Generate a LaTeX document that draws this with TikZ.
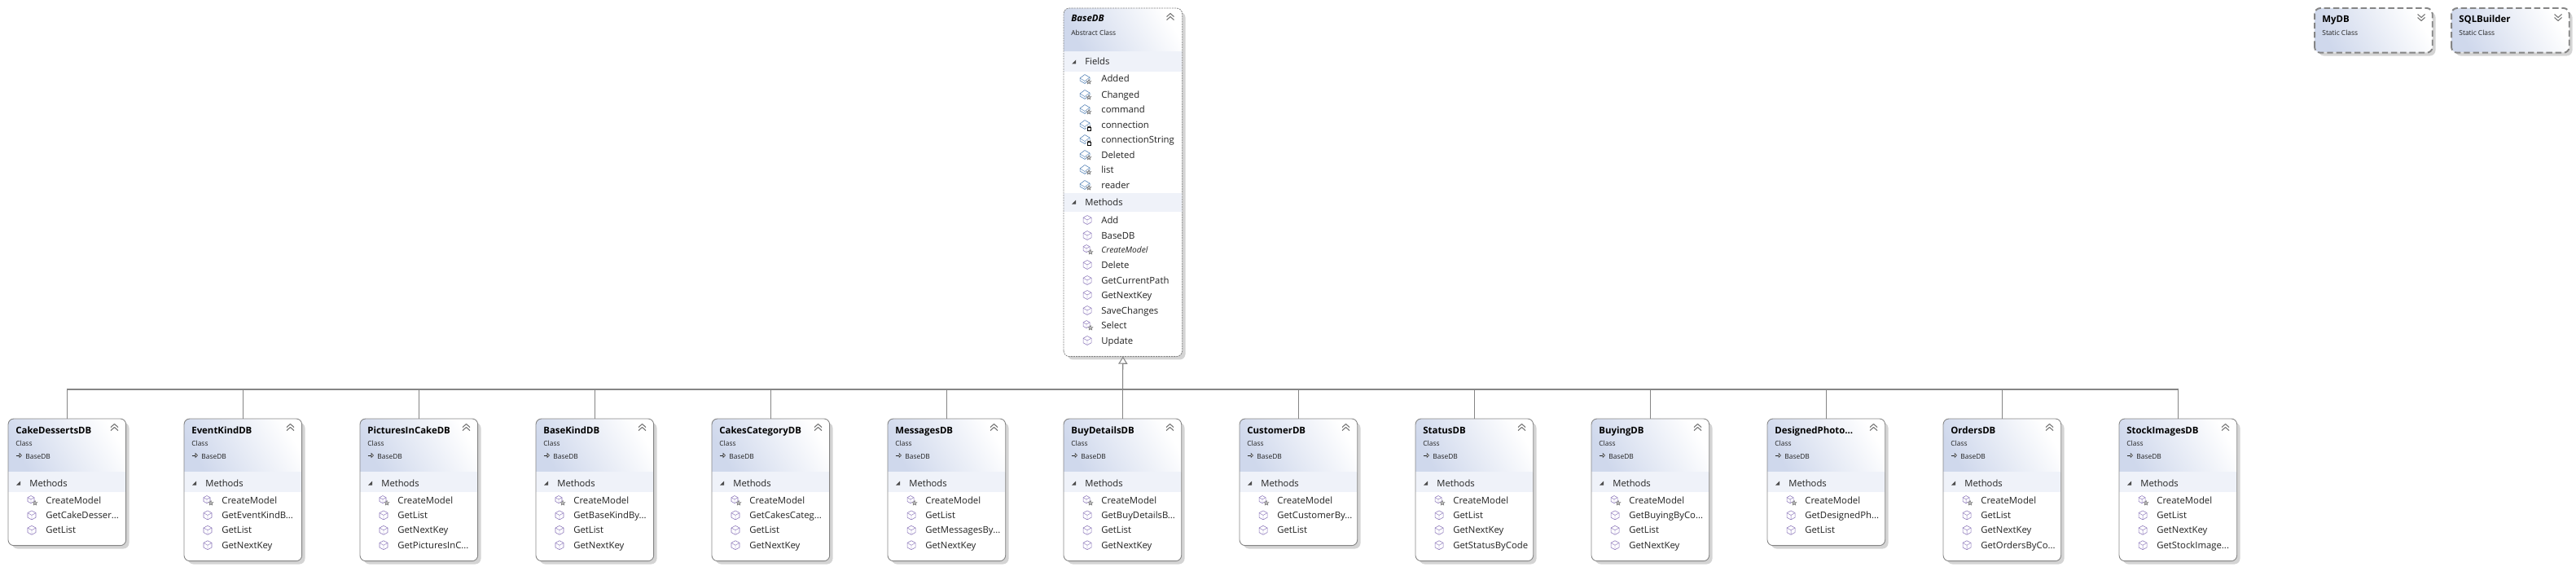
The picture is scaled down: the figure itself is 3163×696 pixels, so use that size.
\documentclass[tikz,border=0pt]{standalone}
\usepackage{fontspec}
\setmainfont{Open Sans}
\usetikzlibrary{arrows.meta,shadows}
\definecolor{hdrblue}{HTML}{CFD8EC}
\definecolor{bandblue}{HTML}{EFF2F9}
\definecolor{edgegray}{HTML}{858585}
\definecolor{linkgray}{HTML}{858585}
\definecolor{shadegray}{HTML}{D4D4D4}
\definecolor{methodpurple}{HTML}{8670B8}
\definecolor{fieldblue}{HTML}{4C7DB4}
\definecolor{inktext}{HTML}{222222}
\newcommand{\trunc}{{.}{.}{.}}
\tikzset{
  titletext/.style={inner sep=0,anchor=base west,font=\fontsize{6.5}{8}\selectfont\bfseries,text=black},
  subtext/.style={inner sep=0,anchor=base west,font=\fontsize{4.8}{6}\selectfont,text=inktext},
  bandtext/.style={inner sep=0,anchor=base west,font=\fontsize{6.4}{8}\selectfont,text=inktext},
  membertext/.style={inner sep=0,anchor=base west,font=\fontsize{6.45}{8}\selectfont,text=inktext},
  classbox/.style={anchor=north west,inner sep=0,minimum width=2.88cm,rounded corners=4pt,fill=white,
    drop shadow={shadow xshift=2.4pt,shadow yshift=-2.4pt,fill=shadegray,opacity=1}},
  boxedge/.style={draw=edgegray,line width=0.5pt,rounded corners=4pt},
  baseedge/.style={draw=edgegray,line width=0.45pt,rounded corners=4pt,dash pattern=on 1.2pt off 0.6pt},
  staticedge/.style={draw=edgegray,line width=1.1pt,rounded corners=4pt,dash pattern=on 4.2pt off 2.2pt},
  hdrshade/.style={shading=axis,top color=white,bottom color=hdrblue,shading angle=-60},
  linkline/.style={draw=linkgray,line width=0.6pt},
  methodicon/.pic={
    \draw[methodpurple,line width=0.3pt,line join=round] (0,-5.5) -- (5,-2.8) -- (5,2.8) -- (0,5.5) -- (-5,2.8) -- (-5,-2.8) -- cycle;
    \draw[methodpurple,line width=0.25pt] (-5,-2.8) -- (0,0) -- (5,-2.8) (0,0) -- (0,5.5);
  },
  staricon/.pic={
    \draw[black!60,line width=0.22pt,fill=white,line join=round] (-90:3.4) -- (54:3.4) -- (198:3.4) -- (-18:3.4) -- (126:3.4) -- cycle;
  },
  virtualicon/.pic={
    \draw[methodpurple,line width=0.3pt,line join=round] (-1,-5.5) -- (3,-3.3) -- (3,1.5) -- (-1,3.7) -- (-5,1.5) -- (-5,-3.3) -- cycle;
    \draw[methodpurple,line width=0.25pt] (-5,-3.3) -- (-1,-1) -- (3,-3.3) (-1,-1) -- (-1,3.7);
    \pic at (4,3.5) {staricon};
  },
  fieldbody/.pic={
    \draw[fieldblue,line width=0.3pt,line join=round] (-7,-1) -- (-1,-5.5) -- (5,-2) -- (5,1) -- (-1,5.5) -- (-7,2) -- cycle;
    \draw[fieldblue,line width=0.25pt] (-7,-1) -- (-1,2.5) -- (5,-2) (-1,2.5) -- (-1,5.5);
  },
  fieldicon/.pic={
    \pic {fieldbody};
    \pic at (4,3.5) {staricon};
  },
  lockicon/.pic={
    \pic {fieldbody};
    \fill[white] (1,1) rectangle (7,7);
    \draw[black,line width=0.35pt] (2,3) rectangle (6.5,7);
    \draw[black,line width=0.3pt] (2.8,3) -- (2.8,1.8) arc (180:0:1.4) -- (5.6,3);
  },
  chevup/.pic={
    \draw[gray!90!black,line width=0.6pt,line join=round] (-4.5,-0.5) -- (0,-4.5) -- (4.5,-0.5) (-4.5,3.5) -- (0,-0.5) -- (4.5,3.5);
  },
  chevdown/.pic={
    \draw[gray!90!black,line width=0.6pt,line join=round] (-4.5,-3.5) -- (0,0.5) -- (4.5,-3.5) (-4.5,0.5) -- (0,4.5) -- (4.5,0.5);
  },
  bandmark/.pic={
    \fill[black!70] (-2.5,2.5) -- (2.5,2.5) -- (2.5,-2.5) -- cycle;
  },
  parenticon/.pic={
    \draw[black!85,line width=0.3pt] (-3.5,0) -- (1,0);
    \draw[black!85,line width=0.3pt,fill=white] (1,-2.4) -- (3.5,0) -- (1,2.4) -- cycle;
  },
}
\newcommand{\dbclass}[5]{
  \node[classbox,minimum height=#3cm] (#1) at (#2,514) {};
  \begin{scope}
    \clip[rounded corners=4pt] (#1.south west) rectangle (#1.north east);
    \shade[hdrshade] (#2,514) rectangle (#2+145,579);
    \fill[bandblue] (#2,579) rectangle (#2+145,604);
  \end{scope}
  \draw[boxedge] (#1.south west) rectangle (#1.north east);
  \node[titletext] (#1title) at (#2+9,532) {#4};
  \node[subtext] (#1kind) at (#2+9,547) {Class};
  \pic at (#2+13,559) {parenticon};
  \node[subtext] (#1parent) at (#2+21,563) {BaseDB};
  \pic at (#2+130.5,525) {chevup};
  \pic at (#2+12.5,593) {bandmark};
  \node[bandtext] (#1band) at (#2+26,597) {Methods};
  \pic at (#2+29,614) {virtualicon};
  \node[membertext] (#1first) at (#2+46,618) {CreateModel};
  \foreach \mname [count=\n] in {#5} {
    \pic at (#2+29,{614+18.4*\n}) {methodicon};
    \node[membertext] (#1m\n) at (#2+46,{618+18.4*\n}) {\mname};
  }
}
\newcommand{\staticclass}[3]{
  \node[classbox,minimum height=1.08cm] (#1) at (#2,10) {};
  \begin{scope}
    \clip[rounded corners=4pt] (#1.south west) rectangle (#1.north east);
    \shade[hdrshade] (#2,10) rectangle (#2+145,64);
  \end{scope}
  \draw[staticedge] (#1.south west) rectangle (#1.north east);
  \node[titletext] (#1title) at (#2+9,28) {#3};
  \node[subtext] (#1kind) at (#2+9,44) {Static Class};
  \pic at (#2+131,21) {chevdown};
}
\begin{document}
\begin{tikzpicture}[x=0.02cm,y=-0.02cm]
\useasboundingbox (0,0) rectangle (3163,696);
\node[classbox,minimum width=2.9cm,minimum height=8.54cm] (basedb) at (1306,10) {};
\begin{scope}
  \clip[rounded corners=4pt] (basedb.south west) rectangle (basedb.north east);
  \shade[hdrshade] (1306,10) rectangle (1452,63);
  \fill[bandblue] (1306,63) rectangle (1452,88);
  \fill[bandblue] (1306,237) rectangle (1452,260);
\end{scope}
\draw[baseedge] (basedb.south west) rectangle (basedb.north east);
\node[titletext,font=\fontsize{6.5}{8}\selectfont\bfseries\itshape] (basedbtitle) at (1315,27) {BaseDB};
\node[subtext] (basedbkind) at (1315,44) {Abstract Class};
\pic at (1437,21) {chevup};
\pic at (1318.5,76) {bandmark};
\node[bandtext] (basedbfields) at (1332,80) {Fields};
\pic at (1318.5,248) {bandmark};
\node[bandtext] (basedbmethods) at (1332,252) {Methods};
\foreach \fname/\fy in {Added/97,Changed/116,command/134,Deleted/190,list/208,reader/227} {
  \pic at (1333,\fy) {fieldicon};
  \node[membertext] (field\fy) at (1352,\fy+4) {\fname};
}
\foreach \fname/\fy in {connection/153,connectionString/171} {
  \pic at (1333,\fy) {lockicon};
  \node[membertext] (field\fy) at (1352,\fy+4) {\fname};
}
\foreach \mname/\my in {Add/270,BaseDB/289,Delete/325,GetCurrentPath/344,GetNextKey/362,SaveChanges/381,Update/418} {
  \pic at (1335,\my) {methodicon};
  \node[membertext] (method\my) at (1352,\my+4) {\mname};
}
\pic at (1335,306) {virtualicon};
\node[membertext,font=\fontsize{5.8}{8}\selectfont\itshape] (method306) at (1352,310) {CreateModel};
\pic at (1335,399) {virtualicon};
\node[membertext] (method399) at (1352,403) {Select};
\dbclass{cakedesserts}{10}{3.1}{CakeDessertsDB}{GetCakeDesser\trunc,GetList}
\dbclass{eventkind}{226}{3.48}{EventKindDB}{GetEventKindB\trunc,GetList,GetNextKey}
\dbclass{picturesincake}{442}{3.48}{PicturesInCakeDB}{GetList,GetNextKey,GetPicturesInC\trunc}
\dbclass{basekind}{658}{3.48}{BaseKindDB}{GetBaseKindBy\trunc,GetList,GetNextKey}
\dbclass{cakescategory}{874}{3.48}{CakesCategoryDB}{GetCakesCateg\trunc,GetList,GetNextKey}
\dbclass{messages}{1090}{3.48}{MessagesDB}{GetList,GetMessagesBy\trunc,GetNextKey}
\dbclass{buydetails}{1306}{3.48}{BuyDetailsDB}{GetBuyDetailsB\trunc,GetList,GetNextKey}
\dbclass{customer}{1522}{3.1}{CustomerDB}{GetCustomerBy\trunc,GetList}
\dbclass{status}{1738}{3.48}{StatusDB}{GetList,GetNextKey,GetStatusByCode}
\dbclass{buying}{1954}{3.48}{BuyingDB}{GetBuyingByCo\trunc,GetList,GetNextKey}
\dbclass{designedphoto}{2170}{3.1}{DesignedPhoto...}{GetDesignedPh\trunc,GetList}
\dbclass{orders}{2386}{3.48}{OrdersDB}{GetList,GetNextKey,GetOrdersByCo\trunc}
\dbclass{stockimages}{2602}{3.48}{StockImagesDB}{GetList,GetNextKey,GetStockImage\trunc}
\staticclass{mydb}{2842}{MyDB}
\staticclass{sqlbuilder}{3010}{SQLBuilder}
\coordinate (bus) at (1378.5,478);
\foreach \cname in {cakedesserts,eventkind,picturesincake,basekind,cakescategory,messages,buydetails,customer,status,buying,designedphoto,orders,stockimages}
  \draw[linkline] (\cname.north) |- (bus);
\draw[linkline,-{Triangle[length=5.2pt,width=6.4pt,fill=white]}] (bus) -- (basedb.south);
\end{tikzpicture}
\end{document}
